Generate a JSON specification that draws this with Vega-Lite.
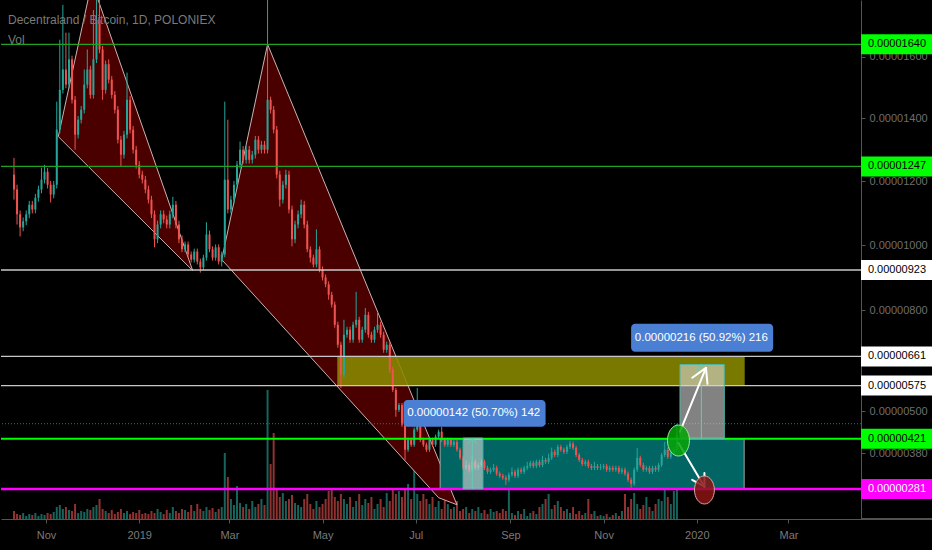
{
"$schema": "https://vega.github.io/schema/vega-lite/v6.json",
"background": "#000000",
"padding": 0,
"spacing": 0,
"bounds": "flush",
"config": {"view": {"stroke": null}, "font": "Liberation Sans", "axis": {"grid": false}},
"datasets": {
"candles": [
{"t":"2018-10-11","o":1221,"h":1274,"l":1142,"c":1174,"v":80},
{"t":"2018-10-13","o":1174,"h":1189,"l":1064,"c":1096,"v":50},
{"t":"2018-10-15","o":1096,"h":1108,"l":1027,"c":1055,"v":40},
{"t":"2018-10-17","o":1055,"h":1086,"l":1043,"c":1074,"v":60},
{"t":"2018-10-19","o":1074,"h":1108,"l":1062,"c":1096,"v":30},
{"t":"2018-10-21","o":1096,"h":1138,"l":1084,"c":1126,"v":50},
{"t":"2018-10-23","o":1126,"h":1138,"l":1099,"c":1111,"v":40},
{"t":"2018-10-25","o":1111,"h":1160,"l":1099,"c":1148,"v":60},
{"t":"2018-10-27","o":1148,"h":1186,"l":1136,"c":1174,"v":30},
{"t":"2018-10-29","o":1174,"h":1243,"l":1162,"c":1205,"v":50},
{"t":"2018-10-31","o":1205,"h":1252,"l":1193,"c":1230,"v":40},
{"t":"2018-11-02","o":1230,"h":1242,"l":1177,"c":1189,"v":60},
{"t":"2018-11-04","o":1189,"h":1201,"l":1133,"c":1158,"v":50},
{"t":"2018-11-06","o":1158,"h":1201,"l":1146,"c":1189,"v":70},
{"t":"2018-11-08","o":1189,"h":1454,"l":1177,"c":1364,"v":120},
{"t":"2018-11-10","o":1364,"h":1655,"l":1352,"c":1492,"v":140},
{"t":"2018-11-12","o":1492,"h":1769,"l":1480,"c":1558,"v":100},
{"t":"2018-11-14","o":1558,"h":1678,"l":1497,"c":1509,"v":120},
{"t":"2018-11-16","o":1509,"h":1678,"l":1497,"c":1591,"v":90},
{"t":"2018-11-18","o":1591,"h":1603,"l":1448,"c":1460,"v":80},
{"t":"2018-11-20","o":1460,"h":1472,"l":1300,"c":1348,"v":150},
{"t":"2018-11-22","o":1348,"h":1408,"l":1336,"c":1396,"v":60},
{"t":"2018-11-24","o":1396,"h":1440,"l":1384,"c":1428,"v":80},
{"t":"2018-11-26","o":1428,"h":1558,"l":1416,"c":1509,"v":70},
{"t":"2018-11-28","o":1509,"h":1623,"l":1497,"c":1558,"v":100},
{"t":"2018-11-30","o":1558,"h":1570,"l":1464,"c":1476,"v":90},
{"t":"2018-12-02","o":1476,"h":1752,"l":1464,"c":1591,"v":120},
{"t":"2018-12-04","o":1591,"h":1817,"l":1579,"c":1720,"v":140},
{"t":"2018-12-06","o":1720,"h":1785,"l":1611,"c":1623,"v":200},
{"t":"2018-12-08","o":1623,"h":1635,"l":1460,"c":1492,"v":100},
{"t":"2018-12-10","o":1492,"h":1587,"l":1480,"c":1575,"v":80},
{"t":"2018-12-12","o":1575,"h":1591,"l":1513,"c":1525,"v":60},
{"t":"2018-12-14","o":1525,"h":1537,"l":1464,"c":1476,"v":90},
{"t":"2018-12-16","o":1476,"h":1488,"l":1416,"c":1428,"v":50},
{"t":"2018-12-18","o":1428,"h":1440,"l":1320,"c":1332,"v":70},
{"t":"2018-12-20","o":1332,"h":1344,"l":1246,"c":1284,"v":100},
{"t":"2018-12-22","o":1284,"h":1360,"l":1272,"c":1348,"v":60},
{"t":"2018-12-24","o":1348,"h":1548,"l":1336,"c":1460,"v":80},
{"t":"2018-12-26","o":1460,"h":1472,"l":1352,"c":1364,"v":50},
{"t":"2018-12-28","o":1364,"h":1376,"l":1288,"c":1300,"v":70},
{"t":"2018-12-30","o":1300,"h":1312,"l":1240,"c":1252,"v":60},
{"t":"2019-01-01","o":1252,"h":1264,"l":1209,"c":1221,"v":90},
{"t":"2019-01-03","o":1221,"h":1233,"l":1193,"c":1205,"v":50},
{"t":"2019-01-05","o":1205,"h":1217,"l":1162,"c":1174,"v":60},
{"t":"2019-01-07","o":1174,"h":1186,"l":1130,"c":1142,"v":50},
{"t":"2019-01-09","o":1142,"h":1154,"l":1084,"c":1096,"v":80},
{"t":"2019-01-11","o":1096,"h":1108,"l":993,"c":1018,"v":60},
{"t":"2019-01-13","o":1018,"h":1076,"l":1006,"c":1064,"v":100},
{"t":"2019-01-15","o":1064,"h":1108,"l":1052,"c":1096,"v":70},
{"t":"2019-01-17","o":1096,"h":1108,"l":1068,"c":1080,"v":50},
{"t":"2019-01-19","o":1080,"h":1092,"l":1052,"c":1064,"v":90},
{"t":"2019-01-21","o":1064,"h":1108,"l":1052,"c":1096,"v":60},
{"t":"2019-01-23","o":1096,"h":1151,"l":1084,"c":1126,"v":120},
{"t":"2019-01-25","o":1126,"h":1138,"l":1052,"c":1064,"v":80},
{"t":"2019-01-27","o":1064,"h":1076,"l":1006,"c":1018,"v":60},
{"t":"2019-01-29","o":1018,"h":1030,"l":978,"c":987,"v":100},
{"t":"2019-01-31","o":987,"h":1011,"l":978,"c":1002,"v":90},
{"t":"2019-02-02","o":1002,"h":1011,"l":962,"c":971,"v":70},
{"t":"2019-02-04","o":971,"h":980,"l":946,"c":955,"v":140},
{"t":"2019-02-06","o":955,"h":989,"l":946,"c":980,"v":80},
{"t":"2019-02-08","o":980,"h":989,"l":940,"c":949,"v":150},
{"t":"2019-02-10","o":949,"h":958,"l":915,"c":931,"v":100},
{"t":"2019-02-12","o":931,"h":970,"l":922,"c":961,"v":80},
{"t":"2019-02-14","o":961,"h":1071,"l":952,"c":1033,"v":120},
{"t":"2019-02-16","o":1033,"h":1045,"l":978,"c":987,"v":90},
{"t":"2019-02-18","o":987,"h":996,"l":952,"c":961,"v":110},
{"t":"2019-02-20","o":961,"h":1002,"l":952,"c":993,"v":70},
{"t":"2019-02-22","o":993,"h":1002,"l":940,"c":949,"v":100},
{"t":"2019-02-24","o":949,"h":980,"l":934,"c":971,"v":120},
{"t":"2019-02-26","o":971,"h":1454,"l":962,"c":1205,"v":660},
{"t":"2019-02-28","o":1205,"h":1396,"l":1099,"c":1111,"v":420},
{"t":"2019-03-02","o":1111,"h":1154,"l":1099,"c":1142,"v":200},
{"t":"2019-03-04","o":1142,"h":1201,"l":1130,"c":1189,"v":140},
{"t":"2019-03-06","o":1189,"h":1264,"l":1177,"c":1252,"v":330},
{"t":"2019-03-08","o":1252,"h":1326,"l":1240,"c":1300,"v":160},
{"t":"2019-03-10","o":1300,"h":1312,"l":1256,"c":1268,"v":120},
{"t":"2019-03-12","o":1268,"h":1312,"l":1256,"c":1300,"v":150},
{"t":"2019-03-14","o":1300,"h":1312,"l":1256,"c":1268,"v":100},
{"t":"2019-03-16","o":1268,"h":1296,"l":1256,"c":1284,"v":180},
{"t":"2019-03-18","o":1284,"h":1344,"l":1272,"c":1332,"v":120},
{"t":"2019-03-20","o":1332,"h":1344,"l":1288,"c":1300,"v":150},
{"t":"2019-03-22","o":1300,"h":1328,"l":1288,"c":1316,"v":200},
{"t":"2019-03-24","o":1316,"h":1328,"l":1288,"c":1300,"v":140},
{"t":"2019-03-26","o":1300,"h":1801,"l":1288,"c":1460,"v":1290},
{"t":"2019-03-28","o":1460,"h":1470,"l":1416,"c":1428,"v":550},
{"t":"2019-03-30","o":1428,"h":1440,"l":1352,"c":1364,"v":860},
{"t":"2019-04-01","o":1364,"h":1376,"l":1209,"c":1221,"v":300},
{"t":"2019-04-03","o":1221,"h":1233,"l":1120,"c":1142,"v":220},
{"t":"2019-04-05","o":1142,"h":1201,"l":1130,"c":1189,"v":260},
{"t":"2019-04-07","o":1189,"h":1236,"l":1177,"c":1221,"v":180},
{"t":"2019-04-09","o":1221,"h":1233,"l":1099,"c":1111,"v":200},
{"t":"2019-04-11","o":1111,"h":1123,"l":996,"c":1018,"v":240},
{"t":"2019-04-13","o":1018,"h":1076,"l":1006,"c":1064,"v":160},
{"t":"2019-04-15","o":1064,"h":1108,"l":1052,"c":1096,"v":140},
{"t":"2019-04-17","o":1096,"h":1142,"l":1084,"c":1126,"v":120},
{"t":"2019-04-19","o":1126,"h":1138,"l":1052,"c":1064,"v":200},
{"t":"2019-04-21","o":1064,"h":1076,"l":978,"c":987,"v":250},
{"t":"2019-04-23","o":987,"h":996,"l":946,"c":961,"v":150},
{"t":"2019-04-25","o":961,"h":970,"l":931,"c":940,"v":100},
{"t":"2019-04-27","o":940,"h":1049,"l":931,"c":987,"v":180},
{"t":"2019-04-29","o":987,"h":996,"l":916,"c":925,"v":120},
{"t":"2019-05-01","o":925,"h":934,"l":891,"c":900,"v":150},
{"t":"2019-05-03","o":900,"h":909,"l":870,"c":879,"v":200},
{"t":"2019-05-05","o":879,"h":888,"l":832,"c":847,"v":280},
{"t":"2019-05-07","o":847,"h":856,"l":808,"c":817,"v":300},
{"t":"2019-05-09","o":817,"h":826,"l":747,"c":756,"v":220},
{"t":"2019-05-11","o":756,"h":765,"l":687,"c":696,"v":180},
{"t":"2019-05-13","o":696,"h":705,"l":568,"c":607,"v":250},
{"t":"2019-05-15","o":607,"h":771,"l":598,"c":726,"v":200},
{"t":"2019-05-17","o":726,"h":750,"l":717,"c":741,"v":150},
{"t":"2019-05-19","o":741,"h":750,"l":702,"c":711,"v":220},
{"t":"2019-05-21","o":711,"h":765,"l":702,"c":756,"v":120},
{"t":"2019-05-23","o":756,"h":856,"l":747,"c":771,"v":180},
{"t":"2019-05-25","o":771,"h":780,"l":702,"c":711,"v":250},
{"t":"2019-05-27","o":711,"h":750,"l":702,"c":741,"v":140},
{"t":"2019-05-29","o":741,"h":807,"l":732,"c":786,"v":200},
{"t":"2019-05-31","o":786,"h":795,"l":717,"c":726,"v":160},
{"t":"2019-06-02","o":726,"h":735,"l":702,"c":711,"v":220},
{"t":"2019-06-04","o":711,"h":750,"l":702,"c":741,"v":100},
{"t":"2019-06-06","o":741,"h":792,"l":732,"c":756,"v":150},
{"t":"2019-06-08","o":756,"h":765,"l":717,"c":726,"v":200},
{"t":"2019-06-10","o":726,"h":735,"l":672,"c":681,"v":120},
{"t":"2019-06-12","o":681,"h":705,"l":672,"c":696,"v":260},
{"t":"2019-06-14","o":696,"h":705,"l":612,"c":621,"v":180},
{"t":"2019-06-16","o":621,"h":630,"l":556,"c":562,"v":310},
{"t":"2019-06-18","o":562,"h":568,"l":484,"c":504,"v":250},
{"t":"2019-06-20","o":504,"h":524,"l":498,"c":518,"v":280},
{"t":"2019-06-22","o":518,"h":524,"l":455,"c":461,"v":220},
{"t":"2019-06-24","o":461,"h":467,"l":361,"c":390,"v":300},
{"t":"2019-06-26","o":390,"h":424,"l":384,"c":418,"v":350},
{"t":"2019-06-28","o":418,"h":424,"l":398,"c":404,"v":200},
{"t":"2019-06-30","o":404,"h":453,"l":398,"c":447,"v":1190},
{"t":"2019-07-02","o":447,"h":568,"l":441,"c":504,"v":250},
{"t":"2019-07-04","o":504,"h":510,"l":412,"c":418,"v":180},
{"t":"2019-07-06","o":418,"h":424,"l":398,"c":404,"v":250},
{"t":"2019-07-08","o":404,"h":410,"l":384,"c":390,"v":200},
{"t":"2019-07-10","o":390,"h":424,"l":384,"c":418,"v":150},
{"t":"2019-07-12","o":418,"h":424,"l":398,"c":404,"v":220},
{"t":"2019-07-14","o":404,"h":433,"l":398,"c":427,"v":120},
{"t":"2019-07-16","o":427,"h":447,"l":421,"c":441,"v":180},
{"t":"2019-07-18","o":441,"h":455,"l":412,"c":418,"v":100},
{"t":"2019-07-20","o":418,"h":424,"l":398,"c":404,"v":250},
{"t":"2019-07-22","o":404,"h":424,"l":398,"c":418,"v":150},
{"t":"2019-07-24","o":418,"h":424,"l":398,"c":404,"v":100},
{"t":"2019-07-26","o":404,"h":418,"l":398,"c":412,"v":120},
{"t":"2019-07-28","o":412,"h":418,"l":384,"c":390,"v":180},
{"t":"2019-07-30","o":390,"h":396,"l":361,"c":367,"v":80},
{"t":"2019-08-01","o":367,"h":373,"l":333,"c":339,"v":100},
{"t":"2019-08-03","o":339,"h":360,"l":333,"c":347,"v":120},
{"t":"2019-08-05","o":347,"h":353,"l":326,"c":334,"v":60},
{"t":"2019-08-07","o":334,"h":372,"l":328,"c":356,"v":100},
{"t":"2019-08-09","o":356,"h":362,"l":333,"c":339,"v":80},
{"t":"2019-08-11","o":339,"h":353,"l":333,"c":347,"v":120},
{"t":"2019-08-13","o":347,"h":362,"l":341,"c":356,"v":60},
{"t":"2019-08-15","o":356,"h":362,"l":333,"c":339,"v":90},
{"t":"2019-08-17","o":339,"h":345,"l":322,"c":328,"v":50},
{"t":"2019-08-19","o":328,"h":340,"l":322,"c":334,"v":100},
{"t":"2019-08-21","o":334,"h":350,"l":328,"c":339,"v":70},
{"t":"2019-08-23","o":339,"h":345,"l":317,"c":323,"v":80},
{"t":"2019-08-25","o":323,"h":329,"l":311,"c":317,"v":60},
{"t":"2019-08-27","o":317,"h":323,"l":306,"c":312,"v":100},
{"t":"2019-08-29","o":312,"h":318,"l":292,"c":306,"v":80},
{"t":"2019-08-31","o":306,"h":326,"l":300,"c":320,"v":650},
{"t":"2019-09-02","o":320,"h":340,"l":314,"c":328,"v":60},
{"t":"2019-09-04","o":328,"h":334,"l":311,"c":317,"v":40},
{"t":"2019-09-06","o":317,"h":340,"l":311,"c":334,"v":80},
{"t":"2019-09-08","o":334,"h":340,"l":322,"c":328,"v":50},
{"t":"2019-09-10","o":328,"h":345,"l":322,"c":339,"v":100},
{"t":"2019-09-12","o":339,"h":356,"l":333,"c":344,"v":30},
{"t":"2019-09-14","o":344,"h":359,"l":338,"c":353,"v":60},
{"t":"2019-09-16","o":353,"h":359,"l":338,"c":344,"v":80},
{"t":"2019-09-18","o":344,"h":362,"l":338,"c":356,"v":50},
{"t":"2019-09-20","o":356,"h":362,"l":341,"c":347,"v":120},
{"t":"2019-09-22","o":347,"h":373,"l":341,"c":361,"v":150},
{"t":"2019-09-24","o":361,"h":367,"l":350,"c":356,"v":200},
{"t":"2019-09-26","o":356,"h":379,"l":350,"c":367,"v":250},
{"t":"2019-09-28","o":367,"h":396,"l":361,"c":384,"v":100},
{"t":"2019-09-30","o":384,"h":390,"l":369,"c":375,"v":140},
{"t":"2019-10-02","o":375,"h":404,"l":369,"c":398,"v":180},
{"t":"2019-10-04","o":398,"h":404,"l":384,"c":390,"v":120},
{"t":"2019-10-06","o":390,"h":396,"l":378,"c":384,"v":80},
{"t":"2019-10-08","o":384,"h":404,"l":378,"c":398,"v":100},
{"t":"2019-10-10","o":398,"h":415,"l":392,"c":407,"v":60},
{"t":"2019-10-12","o":407,"h":413,"l":389,"c":395,"v":120},
{"t":"2019-10-14","o":395,"h":401,"l":369,"c":375,"v":50},
{"t":"2019-10-16","o":375,"h":381,"l":355,"c":361,"v":80},
{"t":"2019-10-18","o":361,"h":367,"l":344,"c":350,"v":40},
{"t":"2019-10-20","o":350,"h":362,"l":344,"c":356,"v":60},
{"t":"2019-10-22","o":356,"h":362,"l":338,"c":344,"v":200},
{"t":"2019-10-24","o":344,"h":350,"l":333,"c":339,"v":50},
{"t":"2019-10-26","o":339,"h":356,"l":333,"c":344,"v":80},
{"t":"2019-10-28","o":344,"h":350,"l":333,"c":339,"v":30},
{"t":"2019-10-30","o":339,"h":350,"l":333,"c":341,"v":40},
{"t":"2019-11-01","o":341,"h":350,"l":335,"c":344,"v":30},
{"t":"2019-11-03","o":344,"h":350,"l":328,"c":334,"v":50},
{"t":"2019-11-05","o":334,"h":345,"l":328,"c":339,"v":20},
{"t":"2019-11-07","o":339,"h":345,"l":328,"c":334,"v":40},
{"t":"2019-11-09","o":334,"h":345,"l":328,"c":339,"v":60},
{"t":"2019-11-11","o":339,"h":345,"l":322,"c":328,"v":30},
{"t":"2019-11-13","o":328,"h":340,"l":322,"c":334,"v":80},
{"t":"2019-11-15","o":334,"h":340,"l":317,"c":323,"v":250},
{"t":"2019-11-17","o":323,"h":329,"l":300,"c":306,"v":120},
{"t":"2019-11-19","o":306,"h":312,"l":284,"c":295,"v":200},
{"t":"2019-11-21","o":295,"h":340,"l":289,"c":334,"v":260},
{"t":"2019-11-23","o":334,"h":395,"l":328,"c":367,"v":150},
{"t":"2019-11-25","o":367,"h":373,"l":341,"c":347,"v":100},
{"t":"2019-11-27","o":347,"h":353,"l":328,"c":334,"v":140},
{"t":"2019-11-29","o":334,"h":345,"l":328,"c":339,"v":220},
{"t":"2019-12-01","o":339,"h":345,"l":322,"c":328,"v":120},
{"t":"2019-12-03","o":328,"h":345,"l":322,"c":339,"v":80},
{"t":"2019-12-05","o":339,"h":345,"l":328,"c":334,"v":150},
{"t":"2019-12-07","o":334,"h":353,"l":328,"c":347,"v":200},
{"t":"2019-12-09","o":347,"h":381,"l":341,"c":375,"v":180},
{"t":"2019-12-11","o":375,"h":412,"l":369,"c":390,"v":300},
{"t":"2019-12-13","o":390,"h":396,"l":364,"c":370,"v":220},
{"t":"2019-12-15","o":370,"h":387,"l":364,"c":381,"v":150},
{"t":"2019-12-17","o":381,"h":396,"l":375,"c":390,"v":280},
{"t":"2019-12-19","o":390,"h":464,"l":384,"c":430,"v":300}
],
"levels": [
{"p":1640,"kind":"upper","label":"0.00001640"},
{"p":1247,"kind":"upper","label":"0.00001247"},
{"p":923,"kind":"mid","label":"0.00000923"},
{"p":661,"kind":"mid","label":"0.00000661"},
{"p":575,"kind":"mid","label":"0.00000575"},
{"p":421,"kind":"breakout","label":"0.00000421"},
{"p":281,"kind":"floor","label":"0.00000281"}
],
"zones": [
{"zone":"target","t1":"2019-05-11","t2":"2020-02-01","p1":575,"p2":661},
{"zone":"range","t1":"2019-07-17","t2":"2020-02-01","p1":281,"p2":421}
],
"patterns": [
{"shape":"A","k":0,"t":"2018-11-09","p":1342},
{"shape":"A","k":1,"t":"2018-12-01","p":1844},
{"shape":"A","k":2,"t":"2019-02-05","p":921},
{"shape":"A","k":3,"t":"2018-11-09","p":1342},
{"shape":"B","k":0,"t":"2019-02-24","p":955},
{"shape":"B","k":1,"t":"2019-03-26","p":1640},
{"shape":"B","k":2,"t":"2019-07-28","p":238},
{"shape":"B","k":3,"t":"2019-07-16","p":257},
{"shape":"B","k":4,"t":"2019-02-24","p":955}
],
"measures": [
{"t1":"2019-08-01","t2":"2019-08-14","p1":281,"p2":423},
{"t1":"2019-12-21","t2":"2020-01-19","p1":421,"p2":637}
],
"measureLines": [
{"t1":"2019-08-07","p1":281,"t2":"2019-08-07","p2":423},
{"t1":"2019-08-04","p1":407,"t2":"2019-08-07","p2":423},
{"t1":"2019-08-10","p1":407,"t2":"2019-08-07","p2":423},
{"t1":"2020-01-04","p1":421,"t2":"2020-01-04","p2":637},
{"t1":"2020-01-01","p1":619,"t2":"2020-01-04","p2":637},
{"t1":"2020-01-07","p1":619,"t2":"2020-01-04","p2":637}
],
"arrows": [
{"t1":"2019-12-21","p1":441,"t2":"2020-01-07","p2":627},
{"t1":"2019-12-29","p1":598,"t2":"2020-01-07","p2":627},
{"t1":"2020-01-08","p1":580,"t2":"2020-01-07","p2":627},
{"t1":"2019-12-20","p1":409,"t2":"2020-01-06","p2":287},
{"t1":"2019-12-29","p1":306,"t2":"2020-01-06","p2":287},
{"t1":"2020-01-06","p1":325,"t2":"2020-01-06","p2":287}
],
"markers": [
{"t":"2019-12-20","p":416,"state":"up"},
{"t":"2020-01-06","p":278,"state":"down"}
],
"tags": [
{"t1":"2019-06-23","t2":"2019-09-24","p1":455,"p2":533,"tc":"2019-08-08","pc":494,"text":"0.00000142 (50.70%) 142"},
{"t1":"2019-11-19","t2":"2020-02-20","p1":675,"p2":759,"tc":"2020-01-04","pc":717,"text":"0.00000216 (50.92%) 216"}
]
},
"hconcat": [
{
"width": 860,
"height": 519,
"title": {"text": "Decentraland / Bitcoin, 1D, POLONIEX", "subtitle": "Vol", "anchor": "start", "frame": "group", "orient": "top", "offset": -47, "dx": 7, "font": "Liberation Sans", "fontSize": 12, "fontWeight": "normal", "color": "#7a7a7a", "subtitleFont": "Liberation Sans", "subtitleFontSize": 12, "subtitleColor": "#7a7a7a", "subtitlePadding": 8},
"layer": [
{
"data": {"name": "candles"},
"mark": {"type": "bar", "size": 2},
"encoding": {
"x": {"field": "t", "type": "temporal", "title": null,
"scale": {"type": "utc", "padding": 0, "domain": [{"year": 2018, "month": 10, "date": 2, "hours": 12, "utc": true}, {"year": 2020, "month": 4, "date": 17, "hours": 12, "utc": true}]},
"axis": {"values": [{"year": 2018, "month": 11, "date": 1, "utc": true}, {"year": 2019, "month": 1, "date": 1, "utc": true}, {"year": 2019, "month": 3, "date": 1, "utc": true}, {"year": 2019, "month": 5, "date": 1, "utc": true}, {"year": 2019, "month": 7, "date": 1, "utc": true}, {"year": 2019, "month": 9, "date": 1, "utc": true}, {"year": 2019, "month": 11, "date": 1, "utc": true}, {"year": 2020, "month": 1, "date": 1, "utc": true}, {"year": 2020, "month": 3, "date": 1, "utc": true}],
"labelExpr": "utcmonth(datum.value) == 0 ? utcFormat(datum.value, '%Y') : utcFormat(datum.value, '%b')",
"title": null, "tickSize": 4, "labelPadding": 6, "labelColor": "#7a7a7a", "labelFont": "Liberation Sans", "labelFontSize": 11, "tickColor": "#555555", "domainColor": "#555555", "labelFlush": false, "labelOverlap": false, "minExtent": 31, "maxExtent": 31}},
"y": {"field": "v", "type": "quantitative", "scale": {"domain": [0, 5190], "nice": false}, "axis": null},
"color": {"condition": {"test": "datum.c >= datum.o", "value": "#26a69a"}, "value": "#ef5350"},
"opacity": {"value": 0.6}
}
},
{
"layer": [
{
"data": {"name": "patterns"},
"mark": {"type": "line", "fill": "#4b0000", "stroke": "#cbb3b3", "strokeWidth": 1, "clip": true},
"encoding": {
"x": {"field": "t", "type": "temporal", "title": null},
"y": {"field": "p", "type": "quantitative", "scale": {"type": "pow", "exponent": 0.9, "domain": [200, 1785], "nice": false, "zero": false}, "axis": null},
"detail": {"field": "shape"},
"order": {"field": "k", "type": "quantitative"}
}
},
{
"data": {"name": "zones"},
"mark": {"type": "rect", "strokeWidth": 1},
"encoding": {
"x": {"field": "t1", "type": "temporal", "title": null},
"x2": {"field": "t2"},
"y": {"field": "p1", "type": "quantitative", "axis": null},
"y2": {"field": "p2"},
"fill": {"condition": {"test": "datum.zone === 'target'", "value": "#8a8a00"}, "value": "#006563"},
"stroke": {"condition": {"test": "datum.zone === 'target'", "value": "#8a8a00"}, "value": "#9aa8a8"},
"opacity": {"condition": {"test": "datum.zone === 'target'", "value": 0.88}, "value": 1}
}
},
{
"data": {"name": "candles"},
"mark": {"type": "rule", "strokeWidth": 1, "clip": true},
"encoding": {
"x": {"field": "t", "type": "temporal", "title": null},
"y": {"field": "l", "type": "quantitative", "axis": null},
"y2": {"field": "h"},
"color": {"condition": {"test": "datum.c >= datum.o", "value": "#26a69a"}, "value": "#ef5350"}
}
},
{
"data": {"name": "candles"},
"mark": {"type": "bar", "size": 2, "clip": true},
"encoding": {
"x": {"field": "t", "type": "temporal", "title": null},
"y": {"field": "o", "type": "quantitative", "axis": null},
"y2": {"field": "c"},
"color": {"condition": {"test": "datum.c >= datum.o", "value": "#26a69a"}, "value": "#ef5350"}
}
},
{
"data": {"name": "levels"},
"mark": {"type": "rule", "clip": true},
"encoding": {
"y": {"field": "p", "type": "quantitative", "axis": null},
"color": {"condition": [{"test": "datum.kind === 'upper'", "value": "#21a321"}, {"test": "datum.kind === 'mid'", "value": "#c8c8c8"}, {"test": "datum.kind === 'breakout'", "value": "#00ff00"}], "value": "#ff00ff"},
"strokeWidth": {"condition": [{"test": "datum.kind === 'breakout'", "value": 2}, {"test": "datum.kind === 'floor'", "value": 2.5}], "value": 1.3}
}
},
{
"data": {"values": [{"p": 464}]},
"mark": {"type": "rule", "strokeDash": [1, 2], "color": "#1f7a70", "strokeWidth": 1},
"encoding": {"y": {"field": "p", "type": "quantitative", "axis": null}}
},
{
"data": {"name": "measures"},
"mark": {"type": "rect", "fill": "#d8d8d8", "fillOpacity": 0.6, "stroke": "#4fb5a5", "strokeWidth": 1},
"encoding": {
"x": {"field": "t1", "type": "temporal", "title": null},
"x2": {"field": "t2"},
"y": {"field": "p1", "type": "quantitative", "axis": null},
"y2": {"field": "p2"}
}
},
{
"data": {"name": "measureLines"},
"mark": {"type": "rule", "color": "#5fcfb3", "strokeWidth": 1},
"encoding": {
"x": {"field": "t1", "type": "temporal", "title": null},
"x2": {"field": "t2"},
"y": {"field": "p1", "type": "quantitative", "axis": null},
"y2": {"field": "p2"}
}
},
{
"data": {"name": "arrows"},
"mark": {"type": "rule", "color": "#ffffff", "strokeWidth": 2, "strokeCap": "round"},
"encoding": {
"x": {"field": "t1", "type": "temporal", "title": null},
"x2": {"field": "t2"},
"y": {"field": "p1", "type": "quantitative", "axis": null},
"y2": {"field": "p2"}
}
},
{
"data": {"name": "markers"},
"mark": {"type": "point", "filled": true, "strokeWidth": 1, "opacity": 1, "shape": "M0,-1C0.392,-1,0.71,-0.552,0.71,0C0.71,0.552,0.392,1,0,1C-0.392,1,-0.71,0.552,-0.71,0C-0.71,-0.552,-0.392,-1,0,-1Z"},
"encoding": {
"x": {"field": "t", "type": "temporal", "title": null},
"y": {"field": "p", "type": "quantitative", "axis": null},
"fill": {"condition": {"test": "datum.state === 'up'", "value": "#06a406"}, "value": "#8a1414"},
"fillOpacity": {"value": 0.85},
"stroke": {"condition": {"test": "datum.state === 'up'", "value": "#9be89b"}, "value": "#e3a0a0"},
"size": {"condition": {"test": "datum.state === 'up'", "value": 961}, "value": 784}
}
},
{
"data": {"name": "tags"},
"mark": {"type": "rect", "fill": "#4a7fd4", "cornerRadius": 4},
"encoding": {
"x": {"field": "t1", "type": "temporal", "title": null},
"x2": {"field": "t2"},
"y": {"field": "p1", "type": "quantitative", "axis": null},
"y2": {"field": "p2"}
}
},
{
"data": {"name": "tags"},
"mark": {"type": "text", "color": "#ffffff", "font": "Liberation Sans", "fontSize": 11.5, "align": "center", "baseline": "middle"},
"encoding": {
"x": {"field": "tc", "type": "temporal", "title": null},
"y": {"field": "pc", "type": "quantitative", "axis": null},
"text": {"field": "text"}
}
}
]
}
],
"resolve": {"scale": {"y": "independent"}}
},
{
"width": 72,
"height": 519,
"data": {"name": "levels"},
"layer": [
{
"mark": {"type": "tick", "thickness": 20, "size": 72, "opacity": 1},
"encoding": {
"y": {"field": "p", "type": "quantitative", "title": null,
"scale": {"type": "pow", "exponent": 0.9, "domain": [200, 1785], "nice": false, "zero": false, "padding": 0},
"axis": {"orient": "left", "values": [380, 500, 800, 1000, 1200, 1400, 1600], "labelExpr": "format(datum.value / 100000000, '.8f')", "title": null, "tickSize": -4, "labelPadding": -4, "labelAlign": "left", "labelBaseline": "middle", "labelColor": "#6e6e6e", "labelFont": "Liberation Sans", "labelFontSize": 11, "tickColor": "#555555", "domainColor": "#555555", "minExtent": 0, "labelBound": false, "labelOverlap": false}},
"color": {"condition": [{"test": "datum.kind === 'mid'", "value": "#ffffff"}, {"test": "datum.kind === 'floor'", "value": "#ff00ff"}], "value": "#00ff00"}
}
},
{
"mark": {"type": "text", "font": "Liberation Sans", "fontSize": 11, "align": "center", "baseline": "middle"},
"encoding": {
"y": {"field": "p", "type": "quantitative", "title": null},
"text": {"field": "label"},
"color": {"condition": {"test": "datum.kind === 'floor'", "value": "#ffffff"}, "value": "#000000"}
}
},
{
"mark": {"type": "rule", "color": "#555555"},
"encoding": {"y": {"datum": 200, "type": "quantitative", "title": null}}
}
]
}
]
}
